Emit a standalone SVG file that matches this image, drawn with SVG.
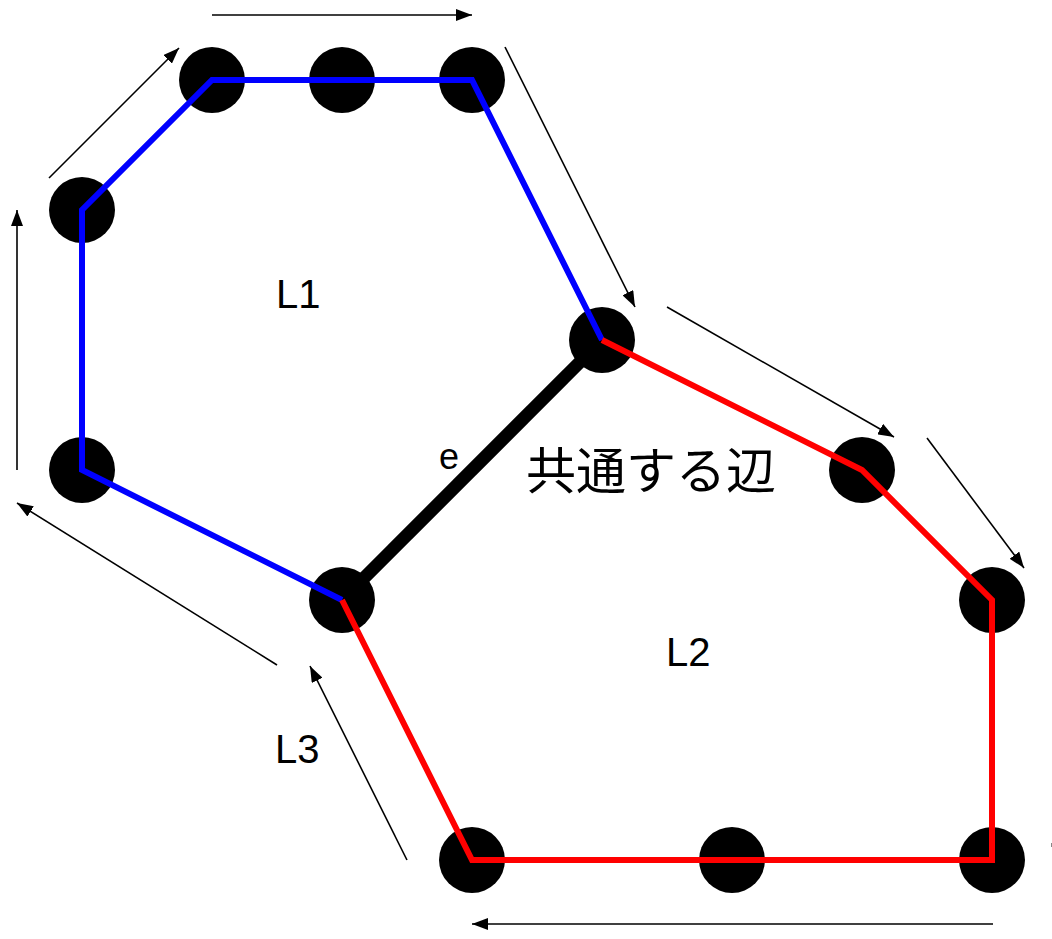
<svg xmlns="http://www.w3.org/2000/svg" width="1052" height="939" viewBox="0 0 1052 939">
<defs>
<style>
.node{fill:#000}
.arr{stroke:#000;stroke-width:1.6;fill:none;marker-end:url(#ah)}
.lbl{font-family:"Liberation Sans",Arial,sans-serif;font-size:40px;fill:#000}
.jp{font-family:"Noto Sans CJK JP","Noto Sans CJK SC",sans-serif;font-size:50px;fill:#000}
</style>
<marker id="ah" markerUnits="userSpaceOnUse" markerWidth="16" markerHeight="12" refX="16" refY="6" orient="auto">
<path d="M0,0 L16,6 L0,12 z" fill="#000"/>
</marker>
</defs>
<rect width="1052" height="939" fill="#fff"/>
<g id="nodes">
<circle id="n1" class="node" cx="212" cy="80" r="33"/>
<circle id="n2" class="node" cx="342" cy="80" r="33"/>
<circle id="n3" class="node" cx="472" cy="80" r="33"/>
<circle id="n4" class="node" cx="82" cy="210" r="33"/>
<circle id="n5" class="node" cx="82" cy="470" r="33"/>
<circle id="n6" class="node" cx="342" cy="600" r="33"/>
<circle id="n7" class="node" cx="602" cy="340" r="33"/>
<circle id="n8" class="node" cx="862" cy="470" r="33"/>
<circle id="n9" class="node" cx="992" cy="600" r="33"/>
<circle id="n10" class="node" cx="472" cy="860" r="33"/>
<circle id="n11" class="node" cx="732" cy="860" r="33"/>
<circle id="n12" class="node" cx="992" cy="860" r="33"/>
</g>
<g id="connectors">
<line id="edge-e" x1="342" y1="600" x2="602" y2="340" stroke="#000" stroke-width="13"/>
<path id="loop-L1" d="M342,600 L82,470 L82,210 L212,80 L472,80 L602,340" fill="none" stroke="#0000ff" stroke-width="6" stroke-linejoin="miter"/>
<path id="loop-L2" d="M602,340 L862,470 L992,600 L992,860 L472,860 L342,600" fill="none" stroke="#ff0000" stroke-width="6" stroke-linejoin="miter"/>
<line class="arr" x1="212" y1="15" x2="472" y2="15"/>
<line class="arr" x1="49" y1="178" x2="179" y2="48"/>
<line class="arr" x1="17" y1="470" x2="17" y2="210"/>
<line class="arr" x1="505" y1="47" x2="635" y2="307"/>
<line class="arr" x1="667" y1="307" x2="894" y2="437"/>
<line class="arr" x1="927" y1="438" x2="1024" y2="568"/>
<line class="arr" x1="993" y1="924" x2="472" y2="924"/>
<line class="arr" x1="407" y1="860" x2="310" y2="666"/>
<line class="arr" x1="277" y1="665" x2="17" y2="503"/>
<line x1="1051.5" y1="843" x2="1051.5" y2="847" stroke="#888" stroke-width="1"/>
</g>
<g id="labels">
<text class="lbl" x="276" y="308">L1</text>
<text class="lbl" x="666" y="666">L2</text>
<text class="lbl" x="275" y="763">L3</text>
<text class="lbl" x="439" y="469" style="font-size:36px">e</text>
<text class="jp" x="526" y="489">共通する辺</text>
</g>
</svg>
